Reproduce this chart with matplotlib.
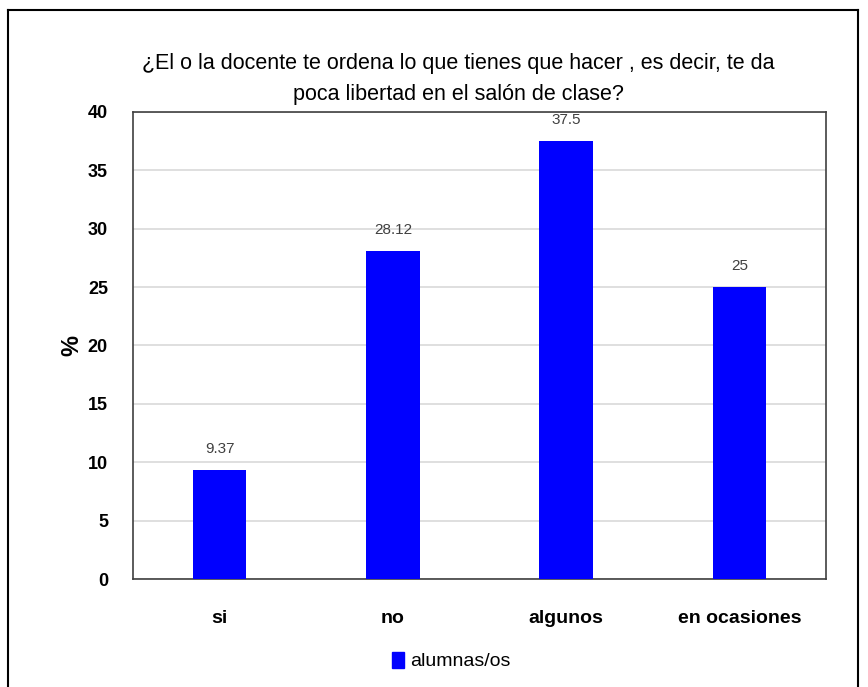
import matplotlib.pyplot as plt
from matplotlib.lines import Line2D
from matplotlib.patches import Patch

categories = ["si", "no", "algunos", "en ocasiones"]
values = [9.37, 28.12, 37.5, 25]
value_labels = ["9.37", "28.12", "37.5", "25"]
series_name = "alumnas/os"
yticks = [0, 5, 10, 15, 20, 25, 30, 35, 40]

plt.rcParams['font.family'] = ['Liberation Sans Narrow', 'Liberation Sans', 'DejaVu Sans']

fig = plt.figure(figsize=(8.68, 6.87), dpi=100)
ax = fig.add_axes([0.1532, 0.1572, 0.7984, 0.680])

x = range(len(categories))
bars = ax.bar(x, values, width=0.31, color="#0000FF", zorder=3)
for b, lab in zip(bars, value_labels):
    ax.text(b.get_x() + b.get_width() / 2, b.get_height() + 1.2, lab,
            ha="center", va="bottom", fontsize=11, color="#404040")

ax.set_xlim(-0.5, len(categories) - 0.5)
ax.set_ylim(0, 40)
ax.set_yticks(yticks)
ax.set_yticklabels([str(t) for t in yticks], fontsize=13, fontweight="bold")
ax.set_xticks(list(x))
ax.set_xticklabels(categories, fontsize=14, fontweight="bold")
ax.tick_params(axis="both", length=0)
ax.tick_params(axis="x", pad=22)
ax.tick_params(axis="y", pad=18)
ax.grid(axis="y", color="#d9d9d9", linewidth=1.2, zorder=0)
for s in ax.spines.values():
    s.set_color("#404040")
    s.set_linewidth(1.2)

ax.set_ylabel("%", fontsize=17, fontweight="bold")
ax.yaxis.set_label_coords(-0.072, 0.5)

fig.text(0.528, 0.907, "¿El o la docente te ordena lo que tienes que hacer , es decir, te da",
         ha="center", va="center", fontsize=15.5)
fig.text(0.528, 0.863, "poca libertad en el salón de clase?",
         ha="center", va="center", fontsize=15.5)

fig.legend(handles=[Patch(color="#0000FF", label=series_name)],
           loc="center", bbox_to_anchor=(0.52, 0.038), frameon=False,
           fontsize=14, handlelength=0.6, handleheight=0.9, handletextpad=0.3)

# outer chart border
for xs, ys in [([0.009, 0.009], [0.0, 0.986]), ([0.009, 0.988], [0.986, 0.986]),
               ([0.988, 0.988], [0.0, 0.986])]:
    fig.add_artist(Line2D(xs, ys, color="black", linewidth=1.5, transform=fig.transFigure))

fig.savefig("out.png", dpi=100)
